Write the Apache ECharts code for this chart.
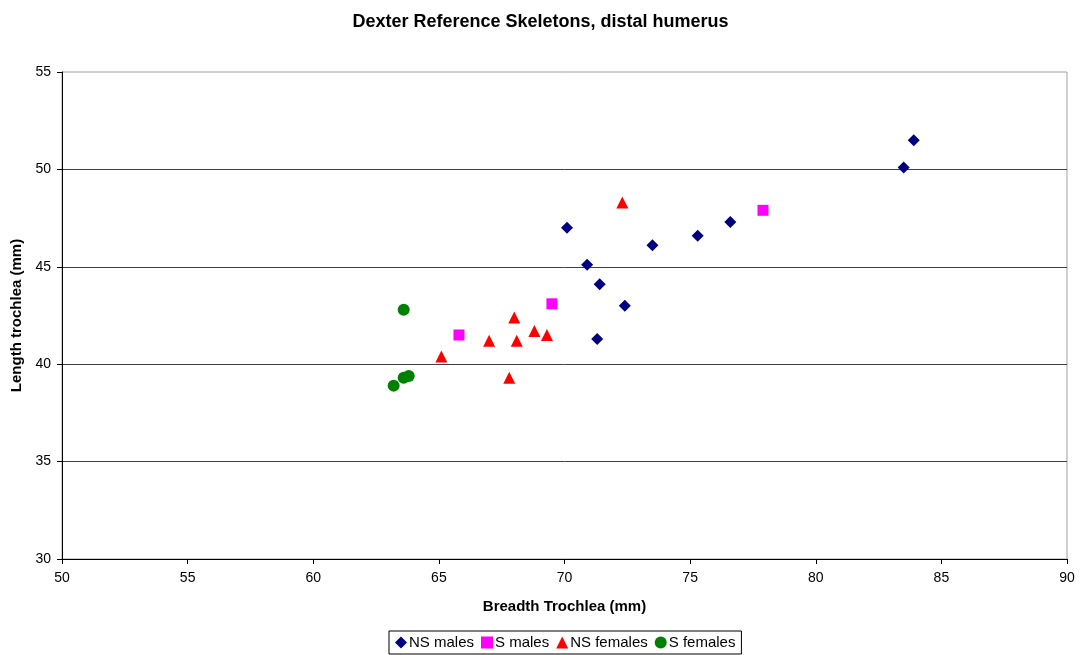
<!DOCTYPE html>
<html><head><meta charset="utf-8">
<script src="https://cdn.jsdelivr.net/npm/echarts@6/dist/echarts.min.js"></script>
<style>html,body{margin:0;padding:0;background:#fff}#c{width:1081px;height:655px}</style>
</head><body><div id="c"></div>
<script>
const nsMales = [[70.1,47.0],[70.9,45.1],[71.4,44.1],[71.3,41.3],[72.4,43.0],[73.5,46.1],[75.3,46.6],[76.6,47.3],[83.5,50.1],[83.9,51.5]];
const sMales = [[65.8,41.5],[69.5,43.1],[77.9,47.9]];
const nsFemales = [[65.1,40.4],[67.0,41.2],[68.0,42.4],[68.1,41.2],[67.8,39.3],[68.8,41.7],[69.3,41.5],[72.3,48.3]];
const sFemales = [[63.6,42.8],[63.2,38.9],[63.6,39.3],[63.8,39.4]];
const seriesNames = ['NS males','S males','NS females','S females'];
const font = 'Liberation Sans, Arial, sans-serif';
const chart = echarts.init(document.getElementById('c'));
chart.setOption({
  animation:false,
  title:{text:'Dexter Reference Skeletons, distal humerus',left:'center',top:8,
    textStyle:{fontFamily:font,fontSize:18,fontWeight:'bold',color:'#000'}},
  grid:{left:62,right:14,top:72,bottom:96,show:true,borderColor:'#a0a0a0',borderWidth:1},
  legend:{bottom:1,left:389,data:seriesNames,borderColor:'#000',borderWidth:1,padding:[4,6,4,6],
    itemGap:7,itemWidth:12,itemHeight:12,
    textStyle:{fontFamily:font,fontSize:15,color:'#000',padding:[0,0,0,-3]}},
  xAxis:{type:'value',min:50,max:90,interval:5,name:'Breadth Trochlea (mm)',nameLocation:'middle',nameGap:40,
    nameTextStyle:{fontFamily:font,fontSize:15,fontWeight:'bold',color:'#000'},
    axisLine:{show:true,lineStyle:{color:'#000'}},axisTick:{show:true,length:5,lineStyle:{color:'#000'}},
    axisLabel:{fontFamily:font,fontSize:14,color:'#000',margin:12},splitLine:{show:false}},
  yAxis:{type:'value',min:30,max:55,interval:5,name:'Length trochlea (mm)',nameLocation:'middle',nameGap:36,
    nameTextStyle:{fontFamily:font,fontSize:15,fontWeight:'bold',color:'#000'},
    axisLine:{show:true,lineStyle:{color:'#000'}},axisTick:{show:true,length:5,lineStyle:{color:'#000'}},
    axisLabel:{fontFamily:font,fontSize:14,color:'#000',margin:11},
    splitLine:{show:true,showMaxLine:false,showMinLine:false,lineStyle:{color:'#404040',width:1}}},
  series:[
    {name:seriesNames[0],type:'scatter',data:nsMales,symbol:'diamond',symbolSize:12,itemStyle:{color:'#000080',opacity:1}},
    {name:seriesNames[1],type:'scatter',data:sMales,symbol:'rect',symbolSize:11,itemStyle:{color:'#ff00ff',opacity:1}},
    {name:seriesNames[2],type:'scatter',data:nsFemales,symbol:'triangle',symbolSize:12,itemStyle:{color:'#ff0000',opacity:1}},
    {name:seriesNames[3],type:'scatter',data:sFemales,symbol:'circle',symbolSize:12,itemStyle:{color:'#008000',opacity:1}}
  ]
});
</script></body></html>
